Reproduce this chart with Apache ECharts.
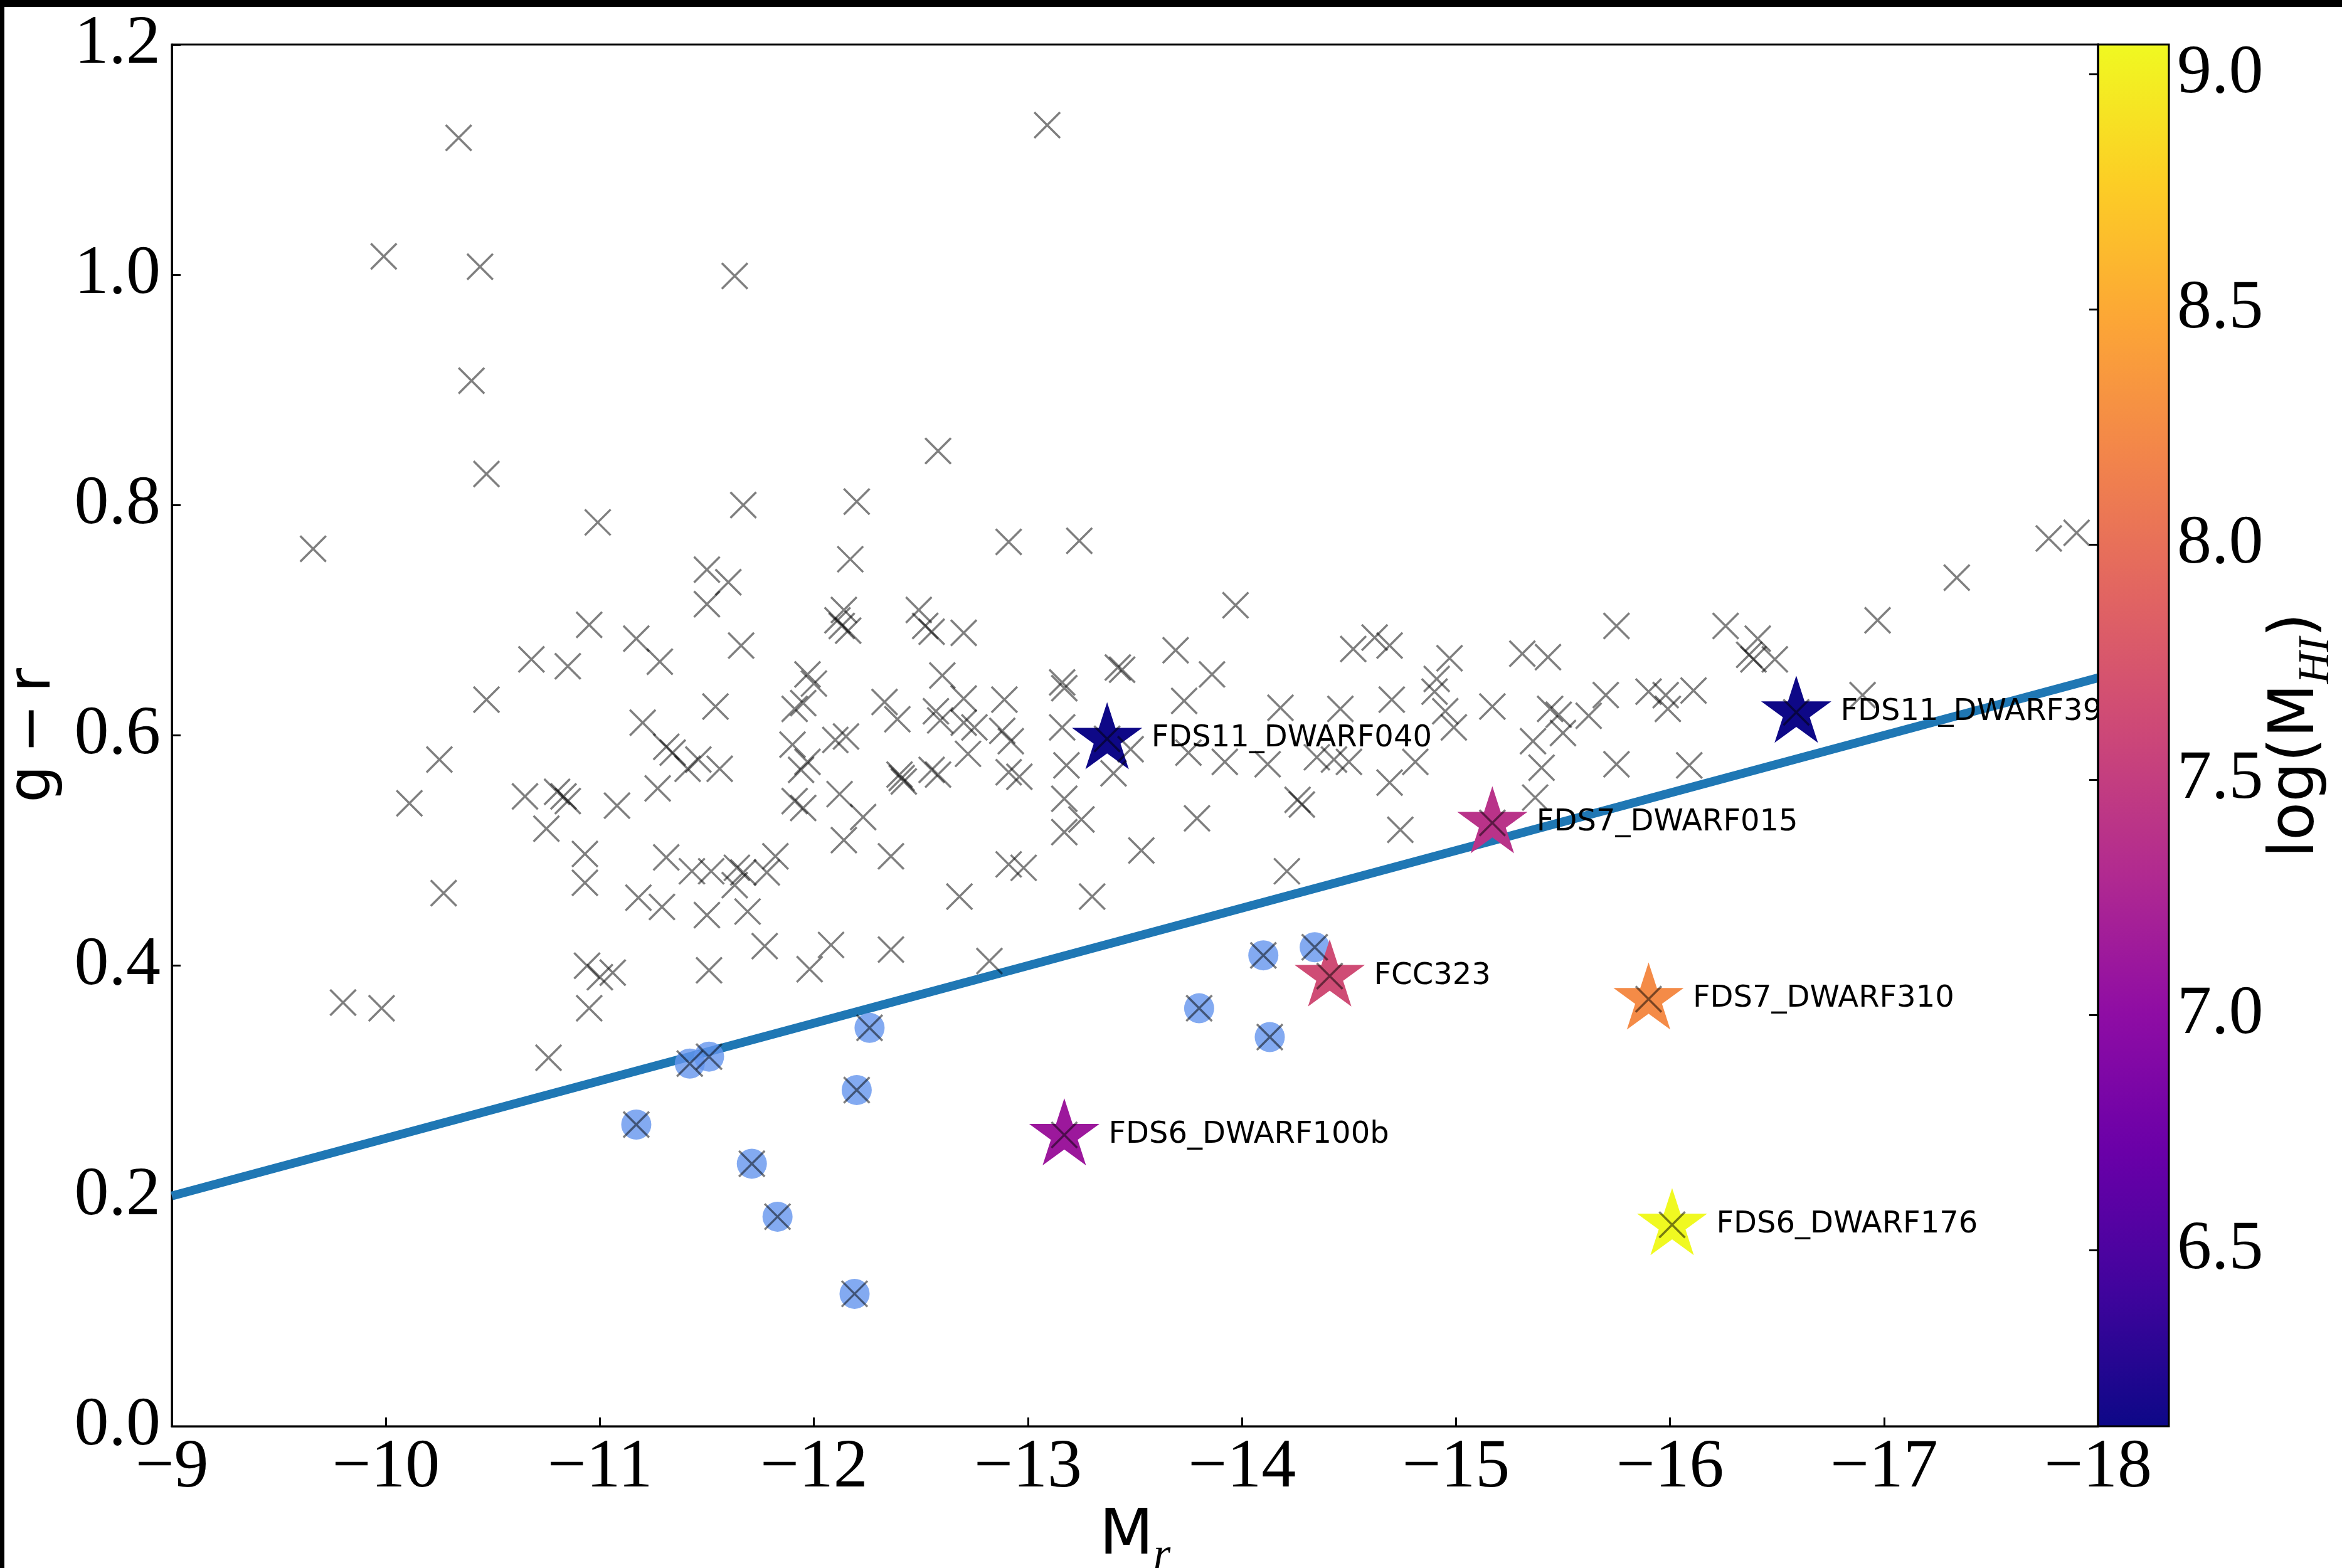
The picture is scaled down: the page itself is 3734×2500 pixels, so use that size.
<!DOCTYPE html>
<html>
<head>
<meta charset="utf-8">
<script src="https://cdn.jsdelivr.net/npm/echarts@6/dist/echarts.min.js"></script>
<style>
  html, body { margin: 0; padding: 0; background: #000; width: 3734px; height: 2500px; overflow: hidden; }
  #chart { position: absolute; left: 7px; top: 11px; width: 3727px; height: 2489px; background: #fff; }
</style>
</head>
<body>
<div id="chart"></div>
<script>
// Field dwarf sample: absolute r-band magnitude and g − r colour
const fieldM = [
  -10.34, -9.99, -10.44, -11.63, -10.40, -10.47, -10.99, -11.67, -9.66, -11.50, -11.60,
  -13.09, -12.58, -12.20, -12.91, -13.24, -12.17,
  -17.34, -17.77, -17.90,
  -11.50, -10.95, -11.17, -11.66, -10.68, -10.85, -11.28, -10.47, -11.54, -11.20,
  -11.97, -12.00, -11.91, -11.95, -11.90, -11.97, -11.94, -11.91, -11.95,
  -11.31, -11.34, -11.41, -11.46, -11.56, -11.27, -10.25, -10.11, -10.65, -10.80,
  -10.83, -10.85, -11.08, -10.75, -10.93, -10.93, -10.27, -11.31, -11.43, -11.52,
  -11.64, -11.67, -11.63, -11.78, -11.82, -11.18, -11.29, -11.50, -11.69, -11.77,
  -10.94, -11.00, -11.06, -11.51, -11.98, -9.80, -9.98, -10.95, -10.76,
  -12.14, -12.13, -12.16, -12.11, -12.49, -12.52, -12.55, -12.70, -13.97, -13.69,
  -13.42, -13.44, -13.86, -14.52, -14.62, -14.69, -14.97, -14.91, -14.90, -12.60,
  -13.16, -13.17, -12.33, -12.39, -12.57, -12.59, -12.70, -12.70, -12.75, -12.89,
  -12.88, -12.92, -12.72, -13.16, -12.10, -12.15, -12.40, -12.42, -12.41, -12.55,
  -12.58, -12.91, -12.96, -13.18, -13.17, -13.40, -13.48, -13.73, -14.18, -14.46,
  -14.70, -13.75, -13.92, -14.12, -14.35, -14.43, -14.50, -14.81, -14.95, -14.99,
  -14.69, -14.26, -14.28, -13.79, -14.74, -12.12, -12.23, -12.14, -12.36, -12.91,
  -12.98, -13.17, -13.25, -13.53, -14.21, -12.68, -13.30, -12.08, -12.36, -12.82,
  -15.75, -16.26, -16.41, -16.97, -15.31, -15.43, -16.37, -16.39, -16.49, -15.17,
  -15.44, -15.48, -15.62, -15.70, -15.90, -15.98, -16.11, -15.99, -15.36, -15.50,
  -15.40, -15.75, -16.09, -15.37, -16.90
];
const fieldGR = [
  1.119, 1.016, 1.007, 0.999, 0.908, 0.827, 0.785, 0.800, 0.762, 0.744, 0.733,
  1.130, 0.847, 0.803, 0.768, 0.769, 0.753,
  0.737, 0.771, 0.776,
  0.714, 0.696, 0.684, 0.678, 0.666, 0.660, 0.664, 0.631, 0.625, 0.611,
  0.653, 0.645, 0.623, 0.628, 0.592, 0.577, 0.570, 0.543, 0.537,
  0.590, 0.585, 0.571, 0.579, 0.571, 0.554, 0.579, 0.541, 0.547, 0.551,
  0.547, 0.543, 0.539, 0.519, 0.497, 0.472, 0.463, 0.494, 0.482, 0.482,
  0.485, 0.481, 0.470, 0.481, 0.495, 0.459, 0.451, 0.444, 0.447, 0.417,
  0.400, 0.390, 0.394, 0.396, 0.397, 0.368, 0.363, 0.363, 0.320,
  0.709, 0.695, 0.691, 0.700, 0.709, 0.695, 0.690, 0.689, 0.713, 0.674,
  0.659, 0.657, 0.653, 0.675, 0.685, 0.678, 0.667, 0.649, 0.638, 0.652,
  0.646, 0.641, 0.629, 0.614, 0.621, 0.613, 0.632, 0.611, 0.607, 0.631,
  0.604, 0.595, 0.584, 0.607, 0.596, 0.599, 0.566, 0.560, 0.563, 0.570,
  0.566, 0.568, 0.564, 0.574, 0.545, 0.567, 0.588, 0.630, 0.624, 0.623,
  0.631, 0.585, 0.577, 0.575, 0.581, 0.579, 0.577, 0.577, 0.621, 0.607,
  0.559, 0.544, 0.540, 0.528, 0.518, 0.549, 0.529, 0.509, 0.495, 0.488,
  0.485, 0.516, 0.527, 0.500, 0.482, 0.460, 0.460, 0.418, 0.414, 0.404,
  0.695, 0.695, 0.684, 0.700, 0.671, 0.668, 0.670, 0.666, 0.666, 0.625,
  0.623, 0.618, 0.617, 0.635, 0.638, 0.635, 0.639, 0.623, 0.595, 0.602,
  0.572, 0.575, 0.574, 0.546, 0.635
];

// Gas-rich dwarfs (filled circles)
const gasM  = [-11.17, -11.42, -11.51, -11.71, -11.83, -12.19, -12.20, -12.26, -13.80, -14.10, -14.13, -14.34];
const gasGR = [ 0.262,  0.315,  0.321,  0.228,  0.182,  0.115,  0.292,  0.346,  0.363,  0.409,  0.338,  0.416];

// HI-detected galaxies (stars), coloured by log(M_HI)
const starNames  = ['FDS11_DWARF040', 'FDS11_DWARF39', 'FDS7_DWARF015', 'FCC323', 'FDS7_DWARF310', 'FDS6_DWARF100b', 'FDS6_DWARF176'];
const starM      = [-13.37, -16.59, -15.17, -14.41, -15.90, -13.17, -16.01];
const starGR     = [ 0.597,  0.620,  0.524,  0.391,  0.371,  0.253,  0.175];
const starLogMHI = [  6.13,   6.13,   7.39,   7.64,   8.24,   7.12,   9.06];

// Dividing line in the colour–magnitude plane
const fitM  = [-9, -18];
const fitGR = [0.20, 0.65];

// Axis ranges and colour-bar ticks
const magRange    = [-18, -9];
const colourRange = [0, 1.2];
const mhiRange    = [6.125, 9.063];
const mhiTicks    = [6.5, 7.0, 7.5, 8.0, 8.5, 9.0];

// plasma colour map
const plasma = ['#0d0887', '#41049d', '#6a00a8', '#8f0da4', '#b12a90', '#cc4778',
                '#e16462', '#f2844b', '#fca636', '#fcce25', '#f0f921'];

function starPath() {
  const pts = [];
  for (let i = 0; i < 10; i++) {
    const r = i % 2 === 0 ? 1 : 0.381966;
    const a = -Math.PI / 2 + i * Math.PI / 5;
    pts.push((r * Math.cos(a)).toFixed(4) + ',' + (r * Math.sin(a)).toFixed(4));
  }
  return 'path://M' + pts.join('L') + 'Z';
}
const crossPath = 'path://M0,0L10,10M10,0L0,10';

const tickFont = 'Liberation Serif';
const sansFont = 'DejaVu Sans';
const minus = v => (v < 0 ? '\u2212' : '') + Math.abs(v);

const labelRich = {
  m: { fontFamily: sansFont, fontSize: 100, color: '#000', padding: [0, 0, 20, 0] },
  s: { fontFamily: tickFont, fontStyle: 'italic', fontSize: 70, color: '#000', padding: [42, 0, 0, 0] }
};

// every galaxy carries a cross, including the circled and starred ones
const crossData = fieldM.map((m, i) => [m, fieldGR[i]])
  .concat(gasM.map((m, i) => [m, gasGR[i]]))
  .concat(starM.map((m, i) => [m, starGR[i]]));

const chart = echarts.init(document.getElementById('chart'), null, { renderer: 'canvas' });

chart.setOption({
  animation: false,
  backgroundColor: '#fff',
  grid: [
    { left: 267, right: 389, top: 60, bottom: 226, show: true, borderColor: '#000', borderWidth: 3,
      backgroundColor: 'transparent', containLabel: false, outerBoundsMode: 'none' },
    { left: 3338, right: 276, top: 60, bottom: 226, show: false, containLabel: false, outerBoundsMode: 'none' }
  ],
  xAxis: [
    {
      type: 'value', gridIndex: 0, min: magRange[0], max: magRange[1], interval: 1, inverse: true,
      axisLine: { show: true, onZero: false, lineStyle: { color: '#000', width: 3 } },
      axisTick: { show: true, inside: true, length: 14, lineStyle: { color: '#000', width: 3 } },
      axisLabel: { margin: 12, fontFamily: tickFont, fontSize: 110, color: '#000', formatter: minus },
      splitLine: { show: false },
      name: '{m|M}{s|r}', nameLocation: 'middle', nameGap: 120,
      nameTextStyle: { rich: labelRich }
    },
    { type: 'value', gridIndex: 1, min: 0, max: 1, show: false }
  ],
  yAxis: [
    {
      type: 'value', gridIndex: 0, min: colourRange[0], max: colourRange[1], interval: 0.2,
      axisLine: { show: true, onZero: false, lineStyle: { color: '#000', width: 3 } },
      axisTick: { show: true, inside: true, length: 14, lineStyle: { color: '#000', width: 3 } },
      axisLabel: { margin: 18, fontFamily: tickFont, fontSize: 110, color: '#000', formatter: v => v.toFixed(1) },
      splitLine: { show: false },
      name: 'g\u2009\u2212\u2009r', nameLocation: 'middle', nameRotate: 90, nameGap: 172,
      nameTextStyle: { fontFamily: sansFont, fontSize: 94, color: '#000' }
    },
    {
      type: 'value', gridIndex: 1, position: 'right', min: mhiRange[0], max: mhiRange[1], z: 7,
      axisLine: { show: true, lineStyle: { color: '#000', width: 3 } },
      axisTick: { show: true, inside: true, length: 14, customValues: mhiTicks, lineStyle: { color: '#000', width: 3 } },
      axisLabel: { show: true, customValues: mhiTicks, margin: 13, fontFamily: tickFont, fontSize: 110, color: '#000', formatter: v => v.toFixed(1) },
      splitLine: { show: false },
      name: '{m|log(M}{s|HI}{m|)}', nameLocation: 'middle', nameRotate: 90, nameGap: 150,
      nameTextStyle: { rich: labelRich }
    }
  ],
  visualMap: {
    type: 'continuous', show: false, seriesIndex: 2, dimension: 2,
    min: mhiRange[0], max: mhiRange[1], inRange: { color: plasma }
  },
  series: [
    {
      type: 'line', xAxisIndex: 0, yAxisIndex: 0, z: 1, silent: true,
      data: fitM.map((m, i) => [m, fitGR[i]]),
      showSymbol: false, symbol: 'none',
      lineStyle: { color: '#1f77b4', width: 14, cap: 'butt' }
    },
    {
      type: 'scatter', xAxisIndex: 0, yAxisIndex: 0, z: 2, silent: true,
      data: gasM.map((m, i) => [m, gasGR[i]]),
      symbol: 'circle', symbolSize: 48,
      itemStyle: { color: 'rgba(100,149,237,0.8)', borderWidth: 0, opacity: 1 }
    },
    {
      type: 'scatter', xAxisIndex: 0, yAxisIndex: 0, z: 3, silent: true,
      data: starM.map((m, i) => [m, starGR[i], starLogMHI[i]]),
      symbol: starPath(), symbolSize: [112, 107], symbolOffset: [0, -5],
      itemStyle: { borderWidth: 0, opacity: 1 }
    },
    {
      type: 'scatter', xAxisIndex: 0, yAxisIndex: 0, z: 4, silent: true,
      data: crossData,
      symbol: crossPath, symbolSize: 41,
      itemStyle: { color: 'transparent', borderColor: 'rgba(0,0,0,0.5)', borderWidth: 3.5, opacity: 1 }
    },
    {
      type: 'scatter', xAxisIndex: 0, yAxisIndex: 0, z: 5, silent: true,
      data: starM.map((m, i) => ({ name: starNames[i], value: [m, starGR[i]] })),
      symbolSize: 1, itemStyle: { color: 'transparent', opacity: 1 },
      label: { show: true, position: 'right', distance: 70, formatter: '{b}', opacity: 1,
               fontFamily: sansFont, fontSize: 48, color: '#000' }
    },
    {
      type: 'custom', xAxisIndex: 1, yAxisIndex: 1, z: 6, silent: true, clip: false,
      data: [[0, mhiRange[0], 1, mhiRange[1]]],
      renderItem: function (params, api) {
        const p0 = api.coord([api.value(0), api.value(1)]);
        const p1 = api.coord([api.value(2), api.value(3)]);
        return {
          type: 'rect',
          shape: { x: p0[0], y: p1[1], width: p1[0] - p0[0], height: p0[1] - p1[1] },
          style: {
            fill: new echarts.graphic.LinearGradient(0, 1, 0, 0,
              plasma.map((c, i) => ({ offset: i / (plasma.length - 1), color: c }))),
            stroke: '#000', lineWidth: 3
          }
        };
      }
    }
  ]
});
</script>
</body>
</html>
